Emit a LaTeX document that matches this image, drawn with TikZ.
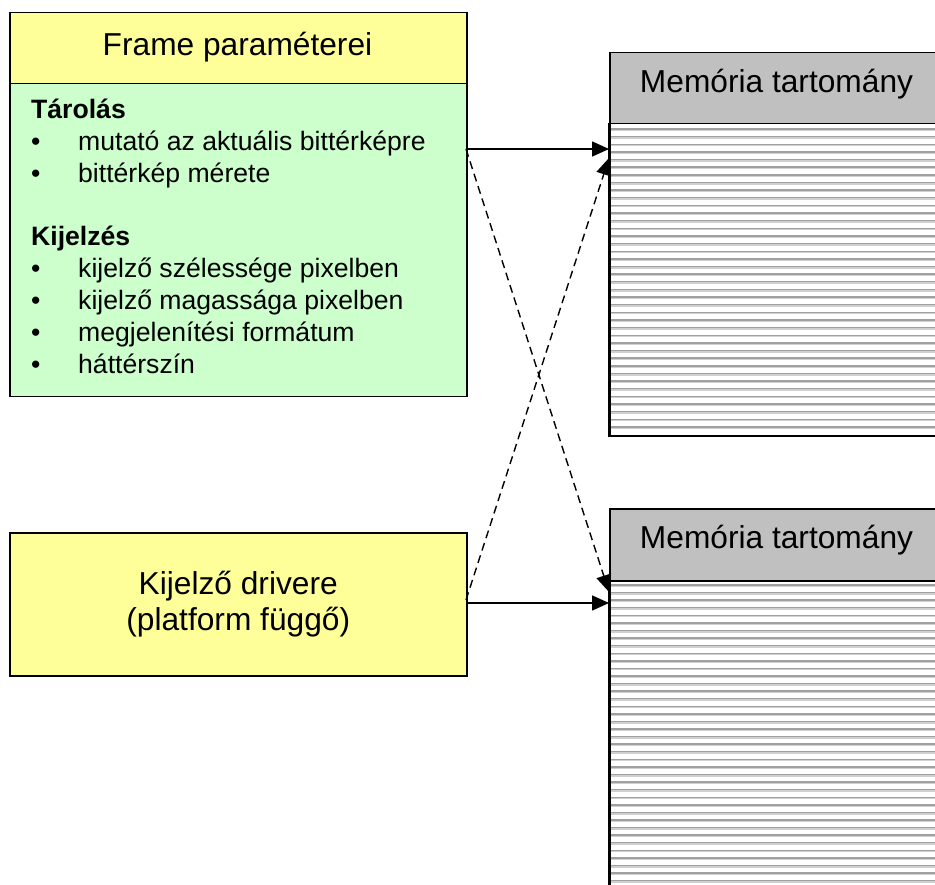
\documentclass[tikz,border=0pt]{standalone}
\usepackage{fontspec}
\setmainfont{Liberation Sans}
\usetikzlibrary{arrows.meta}
\definecolor{hdrYellow}{HTML}{FFFF99}
\definecolor{bodyGreen}{HTML}{CCFFCC}
\definecolor{memGray}{HTML}{C0C0C0}
\definecolor{stripeGray}{HTML}{A0A0A0}
\definecolor{stripeHalo}{HTML}{D0D0D0}
\begin{document}
\begin{tikzpicture}[x=1pt,y=-1pt,
  box/.style={draw=black, line width=1.5pt, inner sep=0pt, anchor=north west},
  bigtext/.style={font=\fontsize{31.7}{36.5}\selectfont},
  smalltext/.style={font=\fontsize{26.6}{30.6}\selectfont, inner sep=0pt, anchor=base west},
  headtext/.style={smalltext, font=\fontsize{26.6}{30.6}\selectfont\bfseries},
  stripe/.style={line width=1.4pt, draw=stripeGray},
  halo/.style={line width=2.8pt, draw=stripeHalo},
  link/.style={line width=1.6pt, -{Triangle[length=17pt,width=15pt]}},
  dashlink/.style={link, line width=1.4pt, dash pattern=on 8pt off 5pt},
]
\useasboundingbox (0,0) rectangle (935,885);
\clip (0,0) rectangle (935,885);

% Frame parameters box
\node[box, fill=hdrYellow, minimum width=457pt, minimum height=71pt] (fhead) at (9,12) {};
\node[bigtext, anchor=base] (ftitle) at (237.5,56) {Frame paraméterei};
\node[box, fill=bodyGreen, minimum width=457pt, minimum height=313pt] (fbody) at (9,83) {};

\node[headtext] (h1) at (31,119) {Tárolás};
\node[smalltext] (b1) at (31,150.8) {•};
\node[smalltext] (t1) at (78,150.8) {mutató az aktuális bittérképre};
\node[smalltext] (b2) at (31,182.6) {•};
\node[smalltext] (t2) at (78,182.6) {bittérkép mérete};
\node[headtext] (h2) at (31,246) {Kijelzés};
\node[smalltext] (b3) at (31,278) {•};
\node[smalltext] (t3) at (78,278) {kijelző szélessége pixelben};
\node[smalltext] (b4) at (31,309.8) {•};
\node[smalltext] (t4) at (78,309.8) {kijelző magassága pixelben};
\node[smalltext] (b5) at (31,341.6) {•};
\node[smalltext] (t5) at (78,341.6) {megjelenítési formátum};
\node[smalltext] (b6) at (31,373.4) {•};
\node[smalltext] (t6) at (78,373.4) {háttérszín};

% Display driver box
\node[box, fill=hdrYellow, minimum width=457pt, minimum height=143pt] (drv) at (9,532) {};
\node[bigtext, align=center] (drvtext) at (drv.center) {Kijelző drivere\\(platform függő)};

% First memory region
\node[box, fill=memGray, minimum width=340pt, minimum height=71pt] (m1head) at (609,52) {};
\node[bigtext, anchor=base] (m1title) at (776.5,93) {Memória tartomány};
\node[box, fill=white, minimum width=340pt, minimum height=312pt] (m1body) at (609,123) {};
\foreach \i in {0,...,39} {
  \draw[halo] (610.6,{129.7+\i*7.64}) -- (940,{129.7+\i*7.64});
  \draw[stripe] (610.6,{129+\i*7.64}) -- (940,{129+\i*7.64});
}

% Second memory region
\node[box, fill=memGray, minimum width=340pt, minimum height=72pt] (m2head) at (609,508) {};
\node[bigtext, anchor=base] (m2title) at (776.5,548) {Memória tartomány};
\node[box, fill=white, minimum width=340pt, minimum height=330pt] (m2body) at (609,580) {};
\foreach \i in {0,...,39} {
  \draw[halo] (610.6,{585.7+\i*7.58}) -- (940,{585.7+\i*7.58});
  \draw[stripe] (610.6,{585+\i*7.58}) -- (940,{585+\i*7.58});
}
\draw[line width=1.5pt] (m1body.north west) -- (m1body.south west);
\draw[line width=1.5pt] (m2body.north west) -- (m2body.south west);

% Connectors
\coordinate (fOut) at (466,149);
\coordinate (dOut) at (466,603);
\coordinate (dDash) at (466,600);
\coordinate (m1In) at (609,149);
\coordinate (m1Dash) at (609,158);
\coordinate (m2In) at (609,603);
\coordinate (m2Dash) at (609,592);

\draw[link] (fOut) -- (m1In);
\draw[dashlink] (fOut) -- (m2Dash);
\draw[link] (dOut) -- (m2In);
\draw[dashlink] (dDash) -- (m1Dash);
\end{tikzpicture}
\end{document}
